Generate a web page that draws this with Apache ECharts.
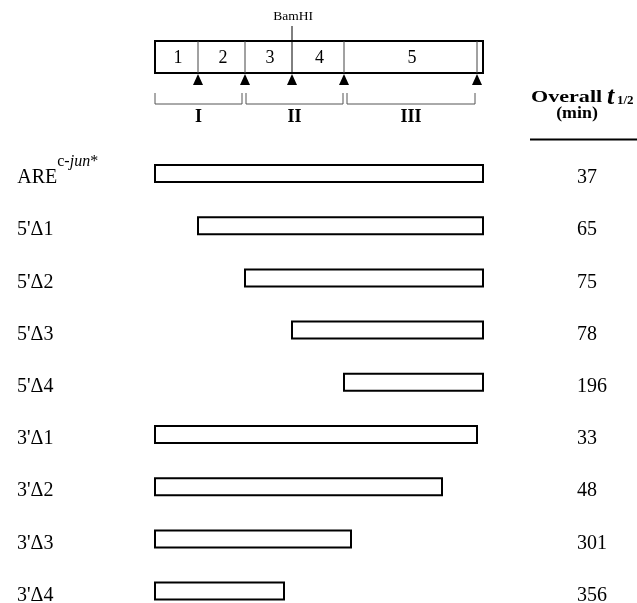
<!DOCTYPE html>
<html>
<head>
<meta charset="utf-8">
<style>html,body{margin:0;padding:0;background:#fff;}#chart{width:637px;height:603px;}</style>
<script src="https://cdn.jsdelivr.net/npm/echarts@6/dist/echarts.min.js"></script>
</head>
<body>
<div id="chart"></div>
<script>
// ---- data (map units: 0 = 5' end of ARE, 328 = 3' end) ----
const mapLength = 328;
const sites = [43, 90, 137, 189, 322];            // arrowhead sites
const bamHISite = 137;
const segmentBounds = [0, 43, 90, 137, 189, 322];
const segmentLabels = ['1', '2', '3', '4', '5'];
const regionNames = ['I', 'II', 'III'];
const regionStarts = [0, 91, 192];
const regionEnds = [87, 188, 320];
const constructs = ['ARE', "5'Δ1", "5'Δ2", "5'Δ3", "5'Δ4", "3'Δ1", "3'Δ2", "3'Δ3", "3'Δ4"];
const starts = [0, 43, 90, 137, 189, 0, 0, 0, 0];
const ends = [328, 328, 328, 328, 328, 322, 287, 196, 129];
const halfLives = [37, 65, 75, 78, 196, 33, 48, 301, 356];

const serif = '"Liberation Serif", "DejaVu Serif", serif';
const chart = echarts.init(document.getElementById('chart'), null, {renderer: 'canvas'});

const barData = constructs.map((c, i) => [i, starts[i], ends[i]]);
const segData = segmentLabels.map((s, i) => [(segmentBounds[i] + segmentBounds[i + 1]) / 2, s]);
const regData = regionNames.map((n, i) => [regionStarts[i], regionEnds[i], n]);
const BAR_SHIFT = 4.5;   // bars sit slightly above the label row centre

const option = {
  backgroundColor: '#fff',
  animation: false,
  grid: [
    {left: 155, right: 154, top: 41, height: 32, outerBoundsMode: 'none'},
    {left: 155, right: 154, top: 178, height: 417.6, outerBoundsMode: 'none'}
  ],
  xAxis: [
    {gridIndex: 0, type: 'value', min: 0, max: mapLength, show: false},
    {gridIndex: 1, type: 'value', min: 0, max: mapLength, show: false}
  ],
  yAxis: [
    {gridIndex: 0, type: 'value', min: 0, max: 1, show: false},
    {
      gridIndex: 1, type: 'category', inverse: true, data: constructs, boundaryGap: false,
      position: 'left',
      axisLine: {show: false}, axisTick: {show: false}, splitLine: {show: false},
      axisLabel: {
        align: 'left', margin: 138, fontFamily: serif, fontSize: 20, color: '#000',
        formatter: function (v) {
          if (v === 'ARE') return '{h| }{a|ARE}{s|c-}{i|jun}{s|*}';
          return v;
        },
        rich: {
          h: {fontSize: 1, lineHeight: 48},
          a: {fontSize: 20, fontFamily: serif, lineHeight: 20, color: '#000'},
          s: {fontSize: 16, fontFamily: serif, lineHeight: 16, verticalAlign: 'top', color: '#000'},
          i: {fontSize: 16, fontFamily: serif, fontStyle: 'italic', lineHeight: 16, verticalAlign: 'top', color: '#000'}
        }
      }
    },
    {
      gridIndex: 1, type: 'category', inverse: true, data: halfLives.map(String), boundaryGap: false,
      position: 'right',
      axisLine: {show: false}, axisTick: {show: false}, splitLine: {show: false},
      axisLabel: {align: 'left', margin: 94, fontFamily: serif, fontSize: 20, color: '#000'}
    }
  ],
  graphic: [
    {
      type: 'text', x: 531, y: 98, scaleX: 1.3,
      style: {text: 'Overall', fontFamily: serif, fontWeight: 'bold', fontSize: 17, fill: '#000', align: 'left', verticalAlign: 'middle'}
    },
    {
      type: 'text', x: 607, y: 97,
      style: {text: 't', fontFamily: serif, fontWeight: 'bold', fontStyle: 'italic', fontSize: 26, fill: '#000', align: 'left', verticalAlign: 'middle'}
    },
    {
      type: 'text', x: 617, y: 100.5,
      style: {text: '1/2', fontFamily: serif, fontWeight: 'bold', fontSize: 13, fill: '#000', align: 'left', verticalAlign: 'middle'}
    },
    {
      type: 'text', x: 577, y: 114, scaleX: 1.05,
      style: {text: '(min)', fontFamily: serif, fontWeight: 'bold', fontSize: 17, fill: '#000', align: 'center', verticalAlign: 'middle'}
    },
    {type: 'line', shape: {x1: 530, y1: 139.5, x2: 637, y2: 139.5}, style: {stroke: '#000', lineWidth: 2}}
  ],
  series: [
    // map box
    {
      type: 'custom', xAxisIndex: 0, yAxisIndex: 0, data: [[0, mapLength]], silent: true,
      renderItem: function (params, api) {
        const a = api.coord([api.value(0), 1]);
        const b = api.coord([api.value(1), 0]);
        return {type: 'rect', shape: {x: a[0], y: a[1], width: b[0] - a[0], height: b[1] - a[1]},
          style: {fill: '#fff', stroke: '#000', lineWidth: 2}};
      }
    },
    // dividers + arrowheads
    {
      type: 'custom', xAxisIndex: 0, yAxisIndex: 0, data: sites.map(s => [s]), silent: true,
      renderItem: function (params, api) {
        const x = api.value(0);
        const top = api.coord([x, 1]);
        const bot = api.coord([x, 0]);
        const isBam = x === bamHISite;
        const children = [
          {type: 'line', shape: {x1: top[0], y1: isBam ? top[1] - 15 : top[1], x2: bot[0], y2: bot[1]},
            style: {stroke: isBam ? '#000' : '#444', lineWidth: 1}},
          {type: 'polygon', shape: {points: [[bot[0], bot[1] + 1], [bot[0] - 5, bot[1] + 12], [bot[0] + 5, bot[1] + 12]]},
            style: {fill: '#000'}}
        ];
        if (isBam) {
          children.push({type: 'text', x: top[0] + 1, y: top[1] - 24.5,
            style: {text: 'BamHI', fontFamily: serif, fontSize: 13.5, fill: '#000', align: 'center', verticalAlign: 'middle'}});
        }
        return {type: 'group', children: children};
      }
    },
    // segment numbers
    {
      type: 'custom', xAxisIndex: 0, yAxisIndex: 0, data: segData, silent: true,
      renderItem: function (params, api) {
        const p = api.coord([api.value(0), 0.5]);
        return {type: 'text', x: p[0] + 1.5, y: p[1] + 1,
          style: {text: segData[params.dataIndex][1], fontFamily: serif, fontSize: 18, fill: '#000', align: 'center', verticalAlign: 'middle'}};
      }
    },
    // region brackets
    {
      type: 'custom', xAxisIndex: 0, yAxisIndex: 0, data: regData, silent: true,
      renderItem: function (params, api) {
        const a = api.coord([api.value(0), 0]);
        const b = api.coord([api.value(1), 0]);
        const y0 = a[1] + 20, y1 = a[1] + 31;
        return {type: 'group', children: [
          {type: 'polyline', shape: {points: [[a[0], y0], [a[0], y1], [b[0], y1], [b[0], y0]]},
            style: {stroke: '#555', lineWidth: 1, fill: null}},
          {type: 'text', x: (a[0] + b[0]) / 2, y: a[1] + 44,
            style: {text: regData[params.dataIndex][2], fontFamily: serif, fontWeight: 'bold', fontSize: 18, fill: '#000', align: 'center', verticalAlign: 'middle'}}
        ]};
      }
    },
    // construct bars
    {
      type: 'custom', xAxisIndex: 1, yAxisIndex: 1, data: barData, silent: true,
      encode: {x: [1, 2], y: 0},
      renderItem: function (params, api) {
        const a = api.coord([api.value(1), api.value(0)]);
        const b = api.coord([api.value(2), api.value(0)]);
        return {type: 'rect', shape: {x: a[0], y: a[1] - BAR_SHIFT - 8.5, width: b[0] - a[0], height: 17},
          style: {fill: '#fff', stroke: '#000', lineWidth: 2}};
      }
    }
  ]
};
chart.setOption(option);
</script>
</body>
</html>
